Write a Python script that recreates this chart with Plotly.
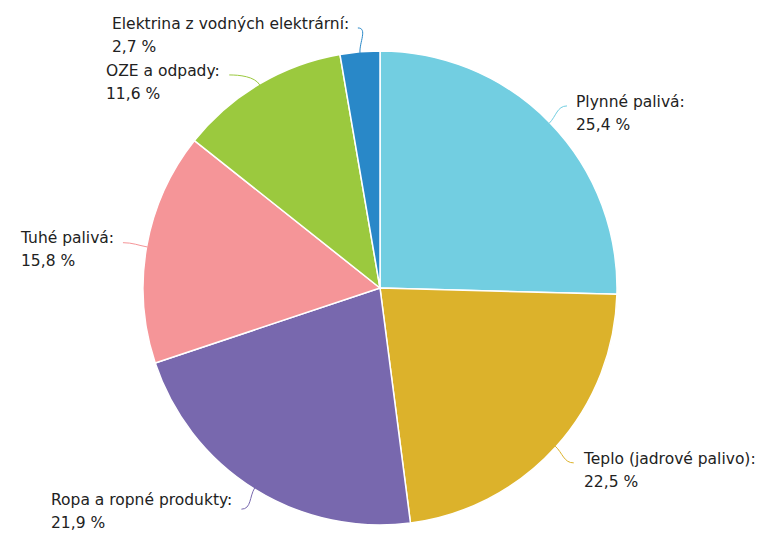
import math
import plotly.graph_objects as go

labels = ["Plynné palivá", "Teplo (jadrové palivo)", "Ropa a ropné produkty",
          "Tuhé palivá", "OZE a odpady", "Elektrina z vodných elektrární"]
values = [25.4, 22.5, 21.9, 15.8, 11.6, 2.7]
colors = ["#72CEE1", "#DCB22B", "#7868AE", "#F59598", "#9BC93E", "#2988C8"]

W, H = 770, 534
OFF = 8  # page body margin
CX, CY, R = 380 - OFF, 288 - OFF, 236
LABEL_DIST = 25
LINE_GAP = 22.5
TEXT_SIZE = 15.5
MIN_SPACING = 47
FONT = dict(family="DejaVu Sans", size=LINE_GAP / 1.3, color="#222222")

fig = go.Figure(go.Pie(
    labels=labels, values=values, sort=False, direction="clockwise", rotation=0,
    marker=dict(colors=colors, line=dict(color="white", width=1.5)),
    textinfo="none", hoverinfo="label+percent", showlegend=False,
    domain=dict(x=[(CX - R - 1) / W, (CX + R + 1) / W],
                y=[1 - (CY + R + 1) / H, 1 - (CY - R - 1) / H]),
))

def px(x):
    return x / W

def py(y):
    return 1 - y / H

total = sum(values)
items = []
cum = 0.0
for lab, v, c in zip(labels, values, colors):
    mid = (cum + v / 2) / total * 2 * math.pi
    cum += v
    s, co = math.sin(mid), math.cos(mid)
    ey = CY - (R + LABEL_DIST) * co
    items.append(dict(label=lab, v=v, c=c, s=s, co=co, ey=ey, right=s >= 0))

for side in (True, False):
    grp = sorted([it for it in items if it["right"] == side], key=lambda d: d["ey"])
    prev = None
    for it in grp:
        if prev is not None and it["ey"] < prev + MIN_SPACING:
            it["ey"] = prev + MIN_SPACING
        prev = it["ey"]

shapes = []
annotations = []
RL = R + LABEL_DIST
BOTTOM_LIMIT = H - OFF - 2
for it in items:
    dy = it["ey"] - CY
    dx = math.sqrt(max(RL * RL - dy * dy, 0))
    sign = 1 if it["right"] else -1
    ex = CX + sign * dx
    ey = it["ey"]
    x0 = CX + R * it["s"]
    y0 = CY - R * it["co"]
    x1 = CX + (R + 10) * it["s"]
    y1 = CY - (R + 10) * it["co"]
    x2 = ex - sign * 10
    y2 = ey
    path = f"M {px(x0)},{py(y0)} C {px(x1)},{py(y1)} {px(x2)},{py(y2)} {px(ex)},{py(ey)}"
    shapes.append(dict(type="path", path=path, xref="paper", yref="paper",
                       line=dict(color=it["c"], width=1)))
    tx = ex + sign * 7
    anchor = "left" if it["right"] else "right"
    line1 = it["label"] + ":"
    line2 = f"{it['v']:.1f}".replace(".", ",") + " %"
    y_first = ey - 4
    # keep the block inside the visible page
    overflow = y_first + LINE_GAP + TEXT_SIZE * 0.6 - BOTTOM_LIMIT
    if overflow > 0:
        y_first -= overflow
    sp = f"<span style='font-size:{TEXT_SIZE}px'>"
    annotations.append(dict(
        x=px(tx), y=py(y_first + LINE_GAP / 2), xref="paper", yref="paper",
        text=f"{sp}{line1}</span><br>{sp}{line2}</span>",
        showarrow=False, xanchor=anchor, yanchor="middle", align="left",
        font=FONT,
    ))

fig.update_layout(
    width=W, height=H, margin=dict(l=0, r=0, t=0, b=0),
    paper_bgcolor="white", plot_bgcolor="white",
    shapes=shapes, annotations=annotations,
)

fig.write_html("out.html")
